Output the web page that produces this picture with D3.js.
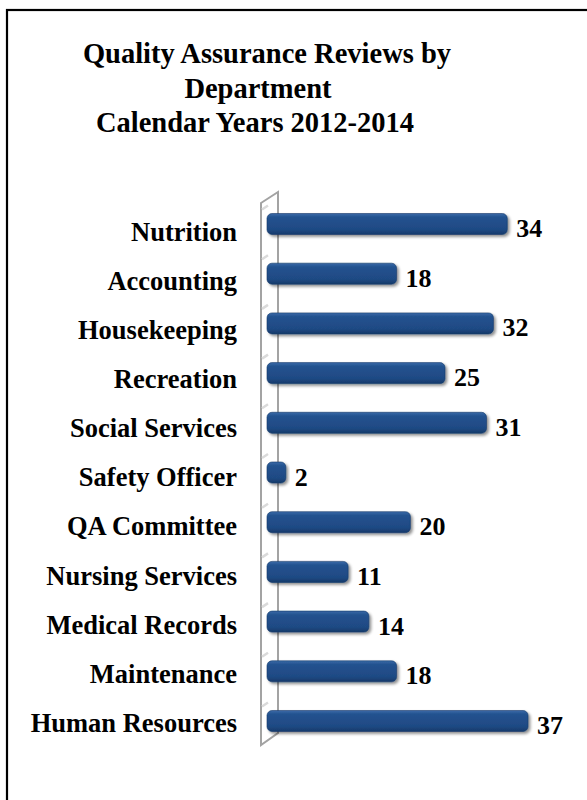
<!DOCTYPE html>
<html>
<head>
<meta charset="utf-8">
<script src="https://cdn.jsdelivr.net/npm/d3@7"></script>
<style>
  html, body { margin: 0; padding: 0; background: #fff; }
  svg { display: block; }
  text { font-family: "Liberation Serif", "Times New Roman", Times, serif; font-weight: bold; fill: #000; }
</style>
</head>
<body>
<svg id="chart" width="587" height="800"></svg>
<script>
// Departments, top to bottom, and their review counts
const departments = [
  "Nutrition", "Accounting", "Housekeeping", "Recreation", "Social Services",
  "Safety Officer", "QA Committee", "Nursing Services", "Medical Records",
  "Maintenance", "Human Resources"
];
const reviews = [34, 18, 32, 25, 31, 2, 20, 11, 14, 18, 37];
const titleLines = [
  "Quality Assurance Reviews by",
  "Department",
  "Calendar Years 2012-2014"
];

const svg = d3.select("#chart");

// outer frame (runs past the right and bottom edges)
svg.append("rect")
  .attr("x", 7).attr("y", 10)
  .attr("width", 700).attr("height", 900)
  .attr("fill", "none").attr("stroke", "#000").attr("stroke-width", 2.2);

// title
const titleX = [267, 258, 255];
svg.append("g").selectAll("text")
  .data(titleLines)
  .join("text")
  .attr("x", (d, i) => titleX[i])
  .attr("y", (d, i) => 63 + i * 34.5)
  .attr("text-anchor", "middle")
  .style("font-size", "28.5px")
  .text(d => d);

// scales
const x = d3.scaleLinear().domain([0, 40]).range([272, 272 + 40 * 6.92]);
const y = d3.scalePoint().domain(departments).range([224, 721]);
const barH = 21;

// defs: bar gradient and drop shadow
const defs = svg.append("defs");
const grad = defs.append("linearGradient")
  .attr("id", "barGrad").attr("x1", 0).attr("y1", 0).attr("x2", 0).attr("y2", 1);
grad.append("stop").attr("offset", "0%").attr("stop-color", "#3a6aa8");
grad.append("stop").attr("offset", "18%").attr("stop-color", "#23528f");
grad.append("stop").attr("offset", "75%").attr("stop-color", "#1f4a84");
grad.append("stop").attr("offset", "100%").attr("stop-color", "#163a6a");

const shadow = defs.append("filter").attr("id", "shadow")
  .attr("x", "-10%").attr("y", "-30%").attr("width", "130%").attr("height", "180%");
shadow.append("feGaussianBlur").attr("in", "SourceAlpha").attr("stdDeviation", 1.4).attr("result", "b");
shadow.append("feOffset").attr("in", "b").attr("dx", 1.5).attr("dy", 2).attr("result", "o");
shadow.append("feComponentTransfer").attr("in", "o").attr("result", "s")
  .append("feFuncA").attr("type", "linear").attr("slope", 0.45);
const merge = shadow.append("feMerge");
merge.append("feMergeNode").attr("in", "s");
merge.append("feMergeNode").attr("in", "SourceGraphic");

// slanted axis wall
const wall = [[261, 203], [278, 192], [278, 733], [261, 745]];
svg.append("path")
  .attr("d", d3.line()(wall) + "Z")
  .attr("fill", "#fff")
  .attr("stroke", "#a3a3a3")
  .attr("stroke-width", 2);

// faint bar shadows cast on the wall
svg.append("g").selectAll("path")
  .data(departments)
  .join("path")
  .attr("d", d => {
    const cy = y(d);
    return `M262,${cy - barH / 2 - 4} L268,${cy - barH / 2 - 8}`;
  })
  .attr("stroke", "#dadada").attr("stroke-width", 2.5).attr("fill", "none");

// bars
svg.append("g").selectAll("rect")
  .data(departments)
  .join("rect")
  .attr("x", x(0) - 5)
  .attr("y", d => y(d) - barH / 2)
  .attr("width", (d, i) => x(reviews[i]) - x(0) + 5)
  .attr("height", barH)
  .attr("rx", 5).attr("ry", 5)
  .attr("fill", "url(#barGrad)")
  .attr("stroke", "#163a6a").attr("stroke-width", 0.6)
  .attr("filter", "url(#shadow)");

// category labels
svg.append("g").selectAll("text")
  .data(departments)
  .join("text")
  .attr("x", 237)
  .attr("y", (d, i) => y(d) + 16.5 - i * 0.55)
  .attr("text-anchor", "end")
  .style("font-size", "26.5px")
  .text(d => d);

// value labels
svg.append("g").selectAll("text")
  .data(departments)
  .join("text")
  .attr("x", (d, i) => x(reviews[i]) + 9)
  .attr("y", d => y(d) + 13)
  .style("font-size", "26px")
  .text((d, i) => reviews[i]);
</script>
</body>
</html>
